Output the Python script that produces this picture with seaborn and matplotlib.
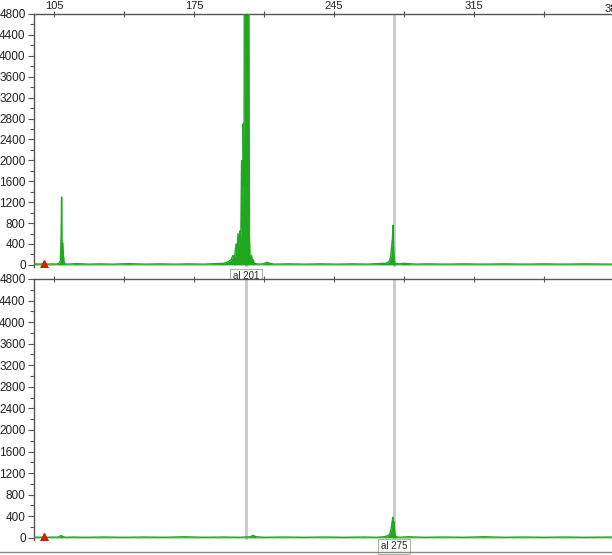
import matplotlib
matplotlib.use("Agg")
import matplotlib.pyplot as plt
import seaborn as sns
import numpy as np
from matplotlib.ticker import MultipleLocator, FixedLocator
from matplotlib.lines import Line2D

sns.set_style("white")
plt.rcParams['font.family'] = ['Liberation Sans', 'DejaVu Sans']

# ---- data ----
top_size = [95, 98, 100, 102, 104, 106, 107.5, 108.2, 108.6, 108.8, 109.0, 109.3, 109.6, 110.0, 110.5,
            112, 116, 122, 128, 135, 142, 150, 158, 165, 172, 180, 186, 190, 192, 193.5, 194.5,
            195.3, 196.0, 196.5, 197.0, 197.5, 198.0, 198.4, 198.8, 199.2, 199.6, 200.0, 200.3,
            200.6, 200.9, 201.2, 201.5, 201.8, 202.1, 202.4, 202.7, 203.0, 203.4, 203.8, 204.2,
            204.6, 205.2, 206.5, 208, 210, 211.5, 213, 215, 222, 230, 238, 246, 254, 262, 267,
            271, 272.5, 273.3, 273.8, 274.2, 274.5, 274.8, 275.1, 275.5, 276.3,
            277.5, 280, 286, 292, 300, 310, 320, 330, 340, 350, 360, 370, 384]
top_rfu = [20, 15, 25, 15, 20, 15, 30, 80, 600, 1300, 200, 420, 250, 60, 20,
           15, 25, 15, 20, 15, 25, 15, 20, 15, 20, 15, 25, 30, 60, 100, 180,
           150, 400, 250, 600, 350, 650, 500, 2000, 700, 2700, 1500, 9000,
           6000, 9000, 7000, 9000, 8000, 9000, 5000, 600, 100, 60, 180, 40,
           100, 25, 20, 15, 25, 50, 30, 15, 20, 15, 20, 15, 20, 15, 25,
           30, 60, 150, 350, 500, 760, 300, 100, 30, 25,
           20, 30, 15, 20, 15, 20, 15, 20, 15, 20, 15, 20, 15]

bot_size = [95, 98, 100, 102, 104, 106, 107.5, 108.5, 109.5, 111, 115, 120, 130, 140, 150, 160,
            170, 180, 190, 198, 203, 204.5, 206, 210, 220, 230, 240, 250, 260, 266, 270, 272,
            273, 273.6, 274.0, 274.4, 274.7, 275.0, 275.4, 275.8, 276.5, 278, 282, 290, 300,
            310, 320, 330, 340, 350, 360, 370, 384]
bot_rfu = [15, 10, 15, 10, 15, 10, 20, 45, 20, 10, 15, 10, 15, 10, 15, 10,
           20, 10, 15, 10, 20, 45, 20, 10, 15, 10, 15, 10, 15, 10, 20, 40,
           80, 180, 280, 380, 250, 300, 80, 30, 15, 10, 20, 10, 15,
           10, 20, 10, 15, 10, 15, 10, 15]

x_ticks = [105, 175, 245, 315, 385]
x_minor = [140, 210, 280, 350]
allele_top = [201]
allele_bot = [275]
marker_lines = [201, 275]
red_marker = [100]
red_height = [20]

GREEN = '#1fa81f'
W, H = 612, 555
fig = plt.figure(figsize=(W / 100, H / 100), dpi=100)

def axes_px(left, top, right, bottom):
    return fig.add_axes([left / W, 1 - bottom / H, (right - left) / W, (bottom - top) / H])

ax1 = axes_px(34, 14, 612, 267)
ax2 = axes_px(34, 279, 612, 540)

for ax, xs, ys in [(ax1, top_size, top_rfu), (ax2, bot_size, bot_rfu)]:
    ax.set_xlim(95, 384)
    ax.set_ylim(-40, 4800)
    for v in marker_lines:
        ax.axvline(v, color='#c8c8c8', lw=2, zorder=1)
    ax.fill_between(xs, 0, ys, color=GREEN, lw=0, zorder=2)
    sns.lineplot(x=xs, y=ys, ax=ax, color=GREEN, lw=1.0, sort=False, estimator=None, zorder=3)
    ax.plot(red_marker, red_height, marker='^', color='#cc2200', markersize=6, ls='none', zorder=4)
    ax.set_yticks(range(0, 4801, 400))
    ax.yaxis.set_minor_locator(MultipleLocator(200))
    ax.tick_params(axis='y', which='major', direction='out', length=4, width=0.8, colors='#555555',
                   labelcolor='#222222', labelsize=8.5, pad=2, left=True)
    ax.tick_params(axis='y', which='minor', direction='out', length=3, width=0.8, colors='#555555', left=True)
    ax.xaxis.tick_top()
    ax.xaxis.set_major_locator(FixedLocator(x_ticks))
    ax.xaxis.set_minor_locator(FixedLocator(x_minor))
    ax.tick_params(axis='x', which='both', direction='inout', length=5, width=0.8, colors='#555555',
                   labelcolor='#222222', labelsize=8, pad=-0.5, top=True, bottom=False)
    for s in ['right', 'bottom']:
        ax.spines[s].set_visible(False)
    for s in ['left', 'top']:
        ax.spines[s].set_color('#555555')
        ax.spines[s].set_linewidth(1.0)
    ax.set_xlabel('')
    ax.set_ylabel('')
    ax.grid(False)

ax2.tick_params(axis='x', labeltop=False)

# the last top tick label (385) sits just past the right edge and is cut off, as in the reference
ax1.text(x_ticks[-1], 4800, str(x_ticks[-1]), ha='center', va='bottom', fontsize=8, color='#222222',
         transform=ax1.transData, clip_on=False)

box = dict(boxstyle='square,pad=0.25', fc='white', ec='#a8b8a8', lw=0.8)
for v in allele_top:
    ax1.annotate(f'al {v}', xy=(v, 0), xycoords='data', xytext=(0, -8), textcoords='offset points',
                 ha='center', va='center', fontsize=7, bbox=box, annotation_clip=False, zorder=6)
for v in allele_bot:
    ax2.annotate(f'al {v}', xy=(v, 0), xycoords='data', xytext=(0, -6), textcoords='offset points',
                 ha='center', va='center', fontsize=7, bbox=box, annotation_clip=False, zorder=6)

fig.add_artist(Line2D([0, 1], [1 - 552 / H, 1 - 552 / H], color='#888888', lw=1))

fig.savefig('out.png', dpi=100)
